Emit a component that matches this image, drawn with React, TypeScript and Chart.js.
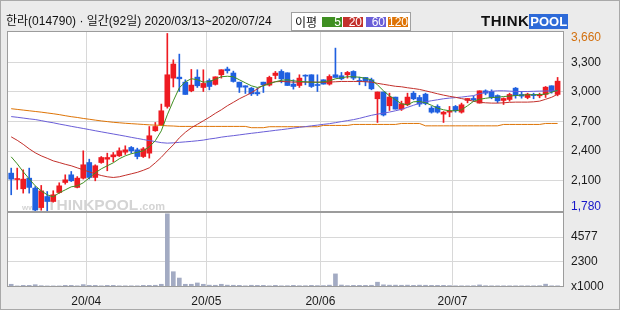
import React, { useEffect, useRef } from 'react';
import { Chart, registerables } from 'chart.js';

Chart.register(...registerables);

// ---------- data ----------
const dates: string[] = [
  '03/13', '03/16', '03/17', '03/18', '03/19', '03/20', '03/23', '03/24', '03/25', '03/26', '03/27', '03/30', '03/31',
  '04/01', '04/02', '04/03', '04/06', '04/07', '04/08', '04/09', '04/10', '04/13', '04/14', '04/16', '04/17', '04/20',
  '04/21', '04/22', '04/23', '04/24', '04/27', '04/28', '04/29',
  '05/04', '05/06', '05/07', '05/08', '05/11', '05/12', '05/13', '05/14', '05/15', '05/18', '05/19', '05/20', '05/21',
  '05/22', '05/25', '05/26', '05/27', '05/28', '05/29',
  '06/01', '06/02', '06/03', '06/04', '06/05', '06/08', '06/09', '06/10', '06/11', '06/12', '06/15', '06/16', '06/17',
  '06/18', '06/19', '06/22', '06/23', '06/24', '06/25', '06/26', '06/29', '06/30',
  '07/01', '07/02', '07/03', '07/06', '07/07', '07/08', '07/09', '07/10', '07/13', '07/14', '07/15', '07/16', '07/17',
  '07/20', '07/21', '07/22', '07/23', '07/24',
];

const opens: number[] = [
  2175, 2110, 2016, 2124, 2023, 1825, 1937, 1887, 1978, 2080,
  2158, 2030, 2124, 2283, 2131, 2283, 2317, 2341, 2351, 2388,
  2436, 2412, 2344, 2378, 2606, 2666, 2853, 3141, 3151, 3100,
  3012, 3151, 3046, 3117, 3077, 3175, 3233, 3193, 3100, 3063,
  3039, 2995, 3100, 3070, 3168, 3209, 3195, 3080, 3066, 3168,
  3175, 3073, 3124, 3080, 3175, 3165, 3175, 3209, 3117, 3148,
  3124, 2931, 3000, 2860, 2948, 2826, 2870, 2988, 2944, 2978,
  2836, 2853, 2775, 2795, 2853, 2795, 2914, 2934, 2887, 3012,
  3005, 2964, 2914, 2924, 3039, 2975, 2944, 2975, 2961, 2975,
  3063, 2975,
];
const highs: number[] = [
  2226, 2226, 2209, 2226, 2039, 2050, 1988, 1996, 2077, 2158,
  2192, 2140, 2402, 2317, 2260, 2344, 2378, 2385, 2432, 2453,
  2446, 2429, 2436, 2649, 2690, 2877, 3595, 3327, 3385, 3124,
  3229, 3226, 3226, 3134, 3154, 3226, 3253, 3212, 3100, 3063,
  3046, 3039, 3100, 3161, 3209, 3226, 3195, 3124, 3175, 3175,
  3175, 3175, 3124, 3175, 3446, 3199, 3209, 3216, 3151, 3148,
  3141, 3000, 3000, 2988, 2948, 2907, 2988, 3005, 2965, 2988,
  2853, 2870, 2802, 2853, 2863, 2887, 2934, 2958, 3012, 3022,
  3022, 2971, 2941, 2988, 3046, 3005, 2988, 2988, 2988, 3056,
  3063, 3148,
];
const lows: number[] = [
  1955, 2010, 1972, 1972, 1780, 1798, 1790, 1880, 1970, 2063,
  2090, 2025, 2115, 2115, 2097, 2275, 2199, 2290, 2344, 2365,
  2378, 2320, 2334, 2328, 2600, 2660, 2836, 3051, 3005, 2975,
  3002, 3046, 3005, 3022, 3070, 3141, 3192, 3100, 2995, 2985,
  2964, 2964, 2995, 3060, 3134, 3093, 3066, 3029, 3046, 3073,
  3046, 3005, 3080, 3070, 3148, 3124, 3141, 3124, 3073, 3063,
  3022, 2690, 2756, 2812, 2826, 2812, 2860, 2921, 2853, 2870,
  2785, 2785, 2690, 2748, 2795, 2785, 2890, 2907, 2887, 2971,
  2931, 2890, 2873, 2907, 2937, 2937, 2931, 2931, 2941, 2944,
  2988, 2961,
];
const closes: number[] = [
  2114, 2118, 2114, 2030, 1800, 1995, 1887, 1955, 2046, 2107,
  2097, 2124, 2260, 2131, 2250, 2334, 2334, 2361, 2402, 2412,
  2402, 2344, 2422, 2555, 2649, 2809, 3175, 3284, 3134, 2975,
  3070, 3063, 3087, 3056, 3154, 3226, 3216, 3107, 3049, 3049,
  2981, 2981, 3073, 3148, 3192, 3134, 3066, 3056, 3141, 3161,
  3056, 3066, 3080, 3158, 3148, 3134, 3199, 3141, 3107, 3107,
  3032, 3000, 2766, 2948, 2826, 2880, 2948, 2931, 2877, 2883,
  2795, 2795, 2795, 2809, 2809, 2870, 2934, 2921, 3012, 2988,
  2944, 2910, 2934, 2975, 2964, 2958, 2978, 2964, 2975, 3049,
  3005, 3110,
];
// volume, x1000 shares
const volumes: number[] = [
  250, 100, 150, 150, 210, 120, 100, 100, 100, 150,
  150, 110, 220, 150, 150, 110, 150, 150, 110, 110,
  110, 110, 150, 150, 160, 250, 6700, 1400, 820, 250,
  250, 370, 250, 170, 160, 250, 170, 160, 150, 110,
  160, 150, 150, 110, 150, 110, 120, 150, 120, 120,
  150, 130, 130, 170, 1200, 180, 130, 150, 150, 150,
  160, 440, 200, 170, 170, 160, 170, 150, 170, 160,
  150, 150, 150, 130, 110, 110, 110, 120, 190, 120,
  110, 110, 110, 110, 110, 110, 110, 110, 120, 260,
  110, 110,
];
const ma5: number[] = [
  2341, 2270, 2189, 2117, 2046, 1995, 1955, 1934, 1975, 2005,
  2036, 2046, 2077, 2127, 2178, 2219, 2250, 2280, 2321, 2351,
  2372, 2387, 2402, 2443, 2504, 2605, 2768, 2910, 3042, 3103,
  3135, 3125, 3100, 3105, 3130, 3155, 3160, 3155, 3124, 3093,
  3063, 3046, 3063, 3083, 3104, 3119, 3124, 3114, 3107, 3104,
  3100, 3098, 3104, 3114, 3134, 3144, 3155, 3155, 3150, 3139,
  3124, 3073, 3012, 2961, 2921, 2880, 2870, 2900, 2904, 2890,
  2865, 2836, 2819, 2809, 2809, 2819, 2860, 2905, 2926, 2936,
  2944, 2946, 2954, 2958, 2964, 2968, 2972, 2972, 2974, 2978,
  2997, 3017,
];
const ma20: number[] = [
  2544, 2509, 2468, 2422, 2382, 2351, 2326, 2300, 2283, 2265,
  2250, 2229, 2209, 2188, 2168, 2151, 2138, 2131, 2138, 2153,
  2168, 2183, 2204, 2229, 2280, 2336, 2402, 2463, 2534, 2590,
  2636, 2671, 2707, 2743, 2783, 2819, 2860, 2895, 2931, 2961,
  2992, 3032, 3068, 3093, 3104, 3107, 3104, 3100, 3100, 3100,
  3100, 3100, 3098, 3100, 3104, 3107, 3107, 3107, 3107, 3104,
  3100, 3088, 3078, 3068, 3058, 3053, 3043, 3035, 3026, 3012,
  2997, 2982, 2968, 2956, 2946, 2933, 2921, 2905, 2895, 2890,
  2887, 2887, 2890, 2895, 2897, 2897, 2897, 2900, 2907, 2926,
  2946, 2977,
];
const ma60: number[] = [
  2750, 2743, 2735, 2727, 2720, 2709, 2697, 2687, 2674, 2663,
  2651, 2640, 2629, 2618, 2606, 2595, 2584, 2573, 2562, 2551,
  2539, 2528, 2517, 2506, 2496, 2485, 2480, 2483, 2488, 2493,
  2498, 2504, 2511, 2522, 2530, 2541, 2549, 2556, 2564, 2572,
  2580, 2587, 2595, 2602, 2610, 2617, 2625, 2633, 2641, 2648,
  2656, 2663, 2671, 2678, 2688, 2699, 2709, 2719, 2732, 2748,
  2763, 2775, 2785, 2796, 2809, 2824, 2844, 2865, 2885, 2900,
  2911, 2921, 2931, 2938, 2943, 2948, 2956, 2963, 2982, 2997,
  3007, 3012, 3012, 3009, 3005, 3005, 3005, 3007, 3009, 3010,
  3012, 3012,
];
const ma120: number[] = [
  2830, 2823, 2816, 2809, 2802, 2795, 2787, 2779, 2770, 2759,
  2749, 2741, 2731, 2723, 2714, 2706, 2699, 2692, 2687, 2682,
  2678, 2674, 2670, 2666, 2663, 2660, 2656, 2654, 2650, 2650,
  2650, 2650, 2650, 2650, 2650, 2650, 2650, 2650, 2650, 2650,
  2637, 2637, 2637, 2647, 2647, 2647, 2647, 2647, 2647, 2647,
  2647, 2647, 2660, 2660, 2660, 2660, 2660, 2670, 2670, 2670,
  2670, 2670, 2670, 2670, 2670, 2680, 2680, 2680, 2680, 2656,
  2656, 2656, 2656, 2656, 2656, 2656, 2656, 2656, 2656, 2656,
  2656, 2656, 2670, 2670, 2670, 2670, 2670, 2670, 2670, 2680,
  2680, 2680,
];

const priceGridTicks: number[] = [2100, 2400, 2700, 3000, 3300];
const periodHigh = 3660;
const periodLow = 1780;
const volumeGridTicks: number[] = [2300, 4577];
const volumeUnitLabel = 'x1000';
const maLegend: { label: string; color: string }[] = [
  { label: '5', color: '#3f8f22' },
  { label: '20', color: '#c3302b' },
  { label: '60', color: '#6a5ed8' },
  { label: '120', color: '#de7406' },
];

// ---------- styling constants ----------
const PRICE_MIN = 1780;
const PRICE_MAX = 3620;
const VOL_MAX = 6866;
const UP = '#ee1b22';
const DOWN = '#1f60e0';
const VOL_COLOR = '#a3abc3';
const GRID = '#d8d8d8';
const FONT = "'Liberation Sans', Arial, sans-serif";
const TITLE_FONT = "'Liberation Sans', 'Noto Sans CJK KR', sans-serif";

const fmt = (v: number) => v.toLocaleString('en-US');

const monthTicks = dates
  .map((d, i) => ({ index: i, mm: d.slice(0, 2) }))
  .filter((d, i) => i > 0 && dates[i - 1].slice(0, 2) !== d.mm)
  .map((d) => ({ index: d.index, label: '20/' + d.mm }));

const panelPlugin = {
  id: 'panels',
  beforeDraw(chart: any) {
    const { ctx, width, height, chartArea } = chart;
    ctx.save();
    ctx.fillStyle = '#ebebeb';
    ctx.fillRect(0, 0, width, height);
    ctx.fillStyle = '#ffffff';
    for (const id of ['y', 'yv']) {
      const s = chart.scales[id];
      ctx.fillRect(chartArea.left, s.top, chartArea.right - chartArea.left, s.bottom - s.top);
    }
    ctx.strokeStyle = '#a9a9a9';
    ctx.lineWidth = 1;
    ctx.strokeRect(0.5, 0.5, width - 1, height - 1);
    ctx.restore();
  },
  beforeDatasetsDraw(chart: any) {
    const { ctx, chartArea } = chart;
    const s = chart.scales.y;
    const x0 = chartArea.left;
    const base = s.bottom - 2;
    ctx.save();
    ctx.fillStyle = '#d4d4d4';
    ctx.textBaseline = 'alphabetic';
    ctx.font = `bold 8px ${FONT}`;
    ctx.fillText('www.', x0 + 15, base);
    ctx.font = `bold 15.5px ${FONT}`;
    ctx.fillText('THINKPOOL', x0 + 40, base);
    const w = ctx.measureText('THINKPOOL').width;
    ctx.font = `bold 11px ${FONT}`;
    ctx.fillText('.com', x0 + 41 + w, base);
    ctx.restore();
  },
  afterDatasetsDraw(chart: any) {
    const { ctx, chartArea } = chart;
    ctx.save();
    ctx.strokeStyle = '#9c9c9c';
    ctx.lineWidth = 1;
    for (const id of ['y', 'yv']) {
      const s = chart.scales[id];
      const l = Math.round(chartArea.left) + 0.5;
      const r = Math.round(chartArea.right) + 0.5;
      const t = Math.round(s.top) + 0.5;
      const b = Math.round(s.bottom) - 0.5;
      ctx.strokeRect(l, t, r - l, b - t);
    }
    ctx.restore();
  },
};

export default function App() {
  const ref = useRef<HTMLCanvasElement | null>(null);

  useEffect(() => {
    if (!ref.current) return;
    const xs = dates.map((_, i) => i + 0.5);
    const colors = closes.map((c, i) => (c >= opens[i] ? UP : DOWN));
    const line = (data: number[], color: string) => ({
      type: 'line' as const,
      data: xs.map((x, i) => ({ x, y: data[i] })),
      borderColor: color,
      borderWidth: 1,
      pointRadius: 0,
      tension: 0,
      yAxisID: 'y',
      order: 0,
    });

    const chart = new Chart(ref.current, {
      type: 'bar',
      data: {
        datasets: [
          line(ma5, maLegend[0].color),
          line(ma20, maLegend[1].color),
          line(ma60, maLegend[2].color),
          line(ma120, maLegend[3].color),
          {
            type: 'bar',
            data: xs.map((x, i) => ({ x, y: [opens[i], closes[i]] })) as any,
            backgroundColor: colors,
            barThickness: 5,
            grouped: false,
            minBarLength: 1,
            borderWidth: 0,
            yAxisID: 'y',
            order: 1,
          },
          {
            type: 'bar',
            data: xs.map((x, i) => ({ x, y: [lows[i], highs[i]] })) as any,
            backgroundColor: colors,
            barThickness: 1,
            grouped: false,
            borderWidth: 0,
            yAxisID: 'y',
            order: 2,
          },
          {
            type: 'bar',
            data: xs.map((x, i) => ({ x, y: volumes[i] })) as any,
            backgroundColor: VOL_COLOR,
            barThickness: 4,
            grouped: false,
            borderWidth: 0,
            yAxisID: 'yv',
            order: 3,
          },
        ] as any,
      },
      options: {
        responsive: false,
        animation: false,
        events: [],
        layout: { padding: { top: 31, left: 7, right: 0, bottom: 0 } },
        plugins: { legend: { display: false }, tooltip: { enabled: false } },
        scales: {
          x: {
            type: 'linear',
            min: -0.2,
            max: 92.4,
            offset: false,
            afterBuildTicks: (s: any) => {
              s.ticks = monthTicks.map((m) => ({ value: m.index }));
            },
            afterFit: (s: any) => {
              s.height = 23;
            },
            ticks: {
              autoSkip: false,
              maxRotation: 0,
              padding: 7,
              color: '#1a1a1a',
              font: { family: FONT, size: 12 },
              callback: (v: any) => monthTicks.find((m) => m.index === v)?.label ?? '',
            },
            grid: { color: GRID, drawTicks: false, offset: false },
            border: { display: false },
          },
          y: {
            type: 'linear',
            position: 'right',
            stack: 'panels',
            stackWeight: 181,
            min: PRICE_MIN,
            max: PRICE_MAX,
            afterBuildTicks: (s: any) => {
              s.ticks = [PRICE_MIN, ...priceGridTicks, PRICE_MAX].map((v) => ({ value: v }));
            },
            afterFit: (s: any) => {
              s.width = 57;
            },
            ticks: {
              autoSkip: false,
              padding: 8,
              color: (c: any) =>
                c.tick && c.tick.value === PRICE_MAX ? '#d2700f' : c.tick && c.tick.value === PRICE_MIN ? '#1515c8' : '#1a1a1a',
              font: (c: any) => ({
                family: FONT,
                size: 12,
                lineHeight: c.tick && c.tick.value === PRICE_MIN ? '10px' : '14px',
              }),
              callback: (v: any) =>
                v === PRICE_MAX ? ['', fmt(periodHigh)] : v === PRICE_MIN ? [fmt(periodLow), ''] : fmt(v),
            },
            grid: {
              drawTicks: false,
              color: (c: any) =>
                c.tick && (c.tick.value === PRICE_MAX || c.tick.value === PRICE_MIN) ? 'rgba(0,0,0,0)' : GRID,
            },
            border: { display: false },
          },
          yv: {
            type: 'linear',
            position: 'right',
            stack: 'panels',
            stackWeight: 75,
            min: 0,
            max: VOL_MAX,
            afterBuildTicks: (s: any) => {
              s.ticks = [0, ...volumeGridTicks].map((v) => ({ value: v }));
            },
            afterFit: (s: any) => {
              s.width = 57;
            },
            ticks: {
              autoSkip: false,
              padding: 8,
              color: '#1a1a1a',
              font: { family: FONT, size: 12 },
              callback: (v: any) => (v === 0 ? volumeUnitLabel : String(v)),
            },
            grid: {
              drawTicks: false,
              color: (c: any) => (c.tick && c.tick.value === 0 ? 'rgba(0,0,0,0)' : GRID),
            },
            border: { display: false },
          },
        } as any,
      },
      plugins: [panelPlugin],
    });
    return () => chart.destroy();
  }, []);

  return (
    <div style={{ position: 'fixed', left: 0, top: 0, width: 620, height: 310, overflow: 'hidden' }}>
      <canvas ref={ref} width={620} height={310} style={{ position: 'absolute', left: 0, top: 0 }} />
      <div
        style={{
          position: 'absolute',
          left: 6,
          top: 14,
          fontFamily: TITLE_FONT,
          fontSize: 12,
          lineHeight: '15px',
          color: '#111',
          whiteSpace: 'nowrap',
        }}
      >
        한라(014790) · 일간(92일) 2020/03/13~2020/07/24
      </div>
      <div
        style={{
          position: 'absolute',
          left: 291,
          top: 12,
          width: 120,
          height: 19,
          background: '#fff',
          border: '1px solid #a0a0a0',
          boxSizing: 'border-box',
        }}
      >
        <span
          style={{
            position: 'absolute',
            left: 3,
            top: 1,
            fontFamily: "'Noto Sans CJK KR', sans-serif",
            fontSize: 12,
            lineHeight: '15px',
            color: '#111',
          }}
        >
          이평
        </span>
      </div>
      {maLegend.map((m, i) => (
        <div
          key={m.label}
          style={{
            position: 'absolute',
            left: [322, 343, 366, 388][i],
            top: 17,
            width: 20,
            height: 10,
            background: m.color,
            color: '#fff',
            fontFamily: FONT,
            fontSize: 12,
            lineHeight: '10px',
            textAlign: 'right',
            paddingRight: 1,
            boxSizing: 'border-box',
          }}
        >
          {m.label}
        </div>
      ))}
      <div style={{ position: 'absolute', left: 481, top: 13, height: 16, whiteSpace: 'nowrap' }}>
        <span
          style={{
            fontFamily: FONT,
            fontWeight: 900,
            fontSize: 15,
            letterSpacing: 0.5,
            color: '#111',
            lineHeight: '16px',
            verticalAlign: 'top',
          }}
        >
          THINK
        </span>
        <span
          style={{
            display: 'inline-block',
            background: '#2d6ad8',
            color: '#fff',
            fontFamily: FONT,
            fontWeight: 'bold',
            fontSize: 13,
            lineHeight: '15px',
            padding: '0 1px',
            verticalAlign: 'top',
            marginTop: 1,
          }}
        >
          POOL
        </span>
      </div>
    </div>
  );
}
